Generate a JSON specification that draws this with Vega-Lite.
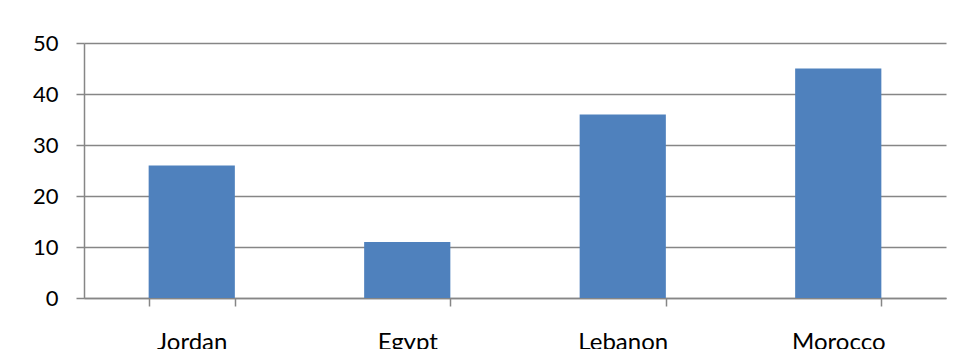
{
  "$schema": "https://vega.github.io/schema/vega-lite/v6.json",
  "width": 862,
  "height": 255,
  "autosize": "none",
  "padding": {"left": 84, "top": 43, "right": 17, "bottom": 51},
  "background": "white",
  "data": {
    "values": [
      {"country": "Jordan", "value": 26},
      {"country": "Egypt", "value": 11},
      {"country": "Lebanon", "value": 36},
      {"country": "Morocco", "value": 45}
    ]
  },
  "mark": {"type": "bar", "color": "#4F81BD"},
  "encoding": {
    "x": {
      "field": "country",
      "type": "nominal",
      "sort": null,
      "scale": {"paddingInner": 0.6, "paddingOuter": 0.3},
      "axis": {
        "title": null,
        "labelAngle": 0,
        "labelFont": "Lato",
        "labelFontSize": 24,
        "labelColor": "#000000",
        "labelPadding": 24,
        "labelBaseline": "top",
        "tickBand": "extent",
        "tickSize": 8,
        "tickColor": "#868686",
        "tickWidth": 1.5,
        "domainColor": "#868686",
        "domainWidth": 1.5,
        "grid": false
      }
    },
    "y": {
      "field": "value",
      "type": "quantitative",
      "scale": {"domain": [0, 50], "nice": false},
      "axis": {
        "title": null,
        "values": [0, 10, 20, 30, 40, 50],
        "labelFont": "Lato",
        "labelFontSize": 22,
        "labelColor": "#000000",
        "labelPadding": 18,
        "tickSize": 8,
        "tickColor": "#868686",
        "tickWidth": 1.5,
        "domainColor": "#868686",
        "domainWidth": 1.5,
        "grid": true,
        "gridColor": "#868686",
        "gridWidth": 1.5
      }
    }
  },
  "config": {"view": {"stroke": null}}
}
